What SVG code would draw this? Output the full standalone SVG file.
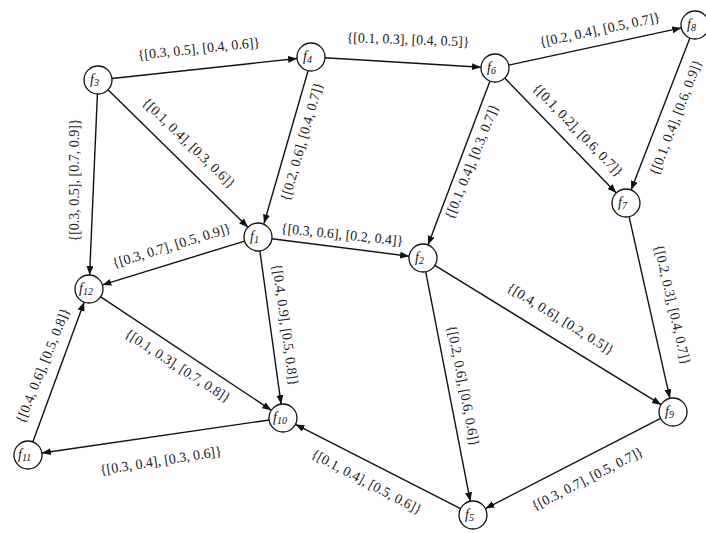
<svg xmlns="http://www.w3.org/2000/svg" width="706" height="533" viewBox="0 0 706 533">
<style>
.n{fill:#fff;stroke:#111;stroke-width:1.3}
.nl{font-family:"Liberation Serif",serif;font-style:italic;font-size:14px;fill:#111}
.e{stroke:#111;stroke-width:1.4;fill:none;marker-end:url(#ah)}
.l{font-family:"Liberation Serif",serif;font-size:14px;fill:#222;text-anchor:middle;dominant-baseline:middle}
</style>
<defs>
<marker id="ah" markerUnits="userSpaceOnUse" markerWidth="10" markerHeight="8" refX="9" refY="3.5" orient="auto"><path d="M0,0 L9,3.5 L0,7 z" fill="#111"/></marker>
</defs>
<rect width="706" height="533" fill="#fff"/>
<g id="connectors">
<line class="e" x1="111.9" y1="78.5" x2="297.1" y2="58.5"/>
<line class="e" x1="325.0" y1="57.8" x2="481.0" y2="67.2"/>
<line class="e" x1="508.7" y1="65.1" x2="681.3" y2="27.9"/>
<line class="e" x1="689.9" y1="38.1" x2="631.1" y2="189.9"/>
<line class="e" x1="504.7" y1="78.0" x2="616.3" y2="193.0"/>
<line class="e" x1="490.0" y1="81.1" x2="428.0" y2="244.9"/>
<line class="e" x1="108.0" y1="89.8" x2="248.0" y2="227.2"/>
<line class="e" x1="308.0" y1="71.0" x2="264.0" y2="223.5"/>
<line class="e" x1="97.4" y1="94.0" x2="89.6" y2="275.0"/>
<line class="e" x1="244.6" y1="241.1" x2="102.4" y2="284.9"/>
<line class="e" x1="271.9" y1="238.8" x2="409.1" y2="256.2"/>
<line class="e" x1="259.9" y1="250.9" x2="281.1" y2="404.1"/>
<line class="e" x1="100.7" y1="296.8" x2="271.3" y2="410.2"/>
<line class="e" x1="269.1" y1="420.0" x2="41.9" y2="453.0"/>
<line class="e" x1="32.8" y1="441.9" x2="84.2" y2="302.1"/>
<line class="e" x1="434.9" y1="265.3" x2="661.1" y2="404.7"/>
<line class="e" x1="425.7" y1="271.7" x2="470.3" y2="501.3"/>
<line class="e" x1="629.1" y1="216.7" x2="669.9" y2="398.3"/>
<line class="e" x1="660.6" y1="418.4" x2="485.4" y2="508.6"/>
<line class="e" x1="460.5" y1="508.6" x2="295.5" y2="424.4"/>
</g>
<g id="labels">
<text class="l" transform="translate(199,50) rotate(-6)">{[0.3, 0.5], [0.4, 0.6]}</text>
<text class="l" transform="translate(408,41) rotate(2)">{[0.1, 0.3], [0.4, 0.5]}</text>
<text class="l" transform="translate(600,31) rotate(-12)">{[0.2, 0.4], [0.5, 0.7]}</text>
<text class="l" transform="translate(677,118) rotate(-69)">{[0.1, 0.4], [0.6, 0.9]}</text>
<text class="l" transform="translate(577,131) rotate(46)">{[0.1, 0.2], [0.6, 0.7]}</text>
<text class="l" transform="translate(473,162) rotate(-68)">{[0.1, 0.4], [0.3, 0.7]}</text>
<text class="l" transform="translate(188,144) rotate(44)">{[0.1, 0.4], [0.3, 0.6]}</text>
<text class="l" transform="translate(303,142) rotate(-74)">{[0.2, 0.6], [0.4, 0.7]}</text>
<text class="l" transform="translate(76,180) rotate(-90)">{[0.3, 0.5], [0.7, 0.9]}</text>
<text class="l" transform="translate(172,247) rotate(-17)">{[0.3, 0.7], [0.5, 0.9]}</text>
<text class="l" transform="translate(342,236) rotate(6)">{[0.3, 0.6], [0.2, 0.4]}</text>
<text class="l" transform="translate(284,325) rotate(82)">{[0.4, 0.9], [0.5, 0.8]}</text>
<text class="l" transform="translate(177,367) rotate(33)">{[0.1, 0.3], [0.7, 0.8]}</text>
<text class="l" transform="translate(161,462) rotate(-9)">{[0.3, 0.4], [0.3, 0.6]}</text>
<text class="l" transform="translate(44,366) rotate(-68)">{[0.4, 0.6], [0.5, 0.8]}</text>
<text class="l" transform="translate(560,320) rotate(32)">{[0.4, 0.6], [0.2, 0.5]}</text>
<text class="l" transform="translate(462,386) rotate(79)">{[0.2, 0.6], [0.6, 0.6]}</text>
<text class="l" transform="translate(671,305) rotate(77)">{[0.2, 0.3], [0.4, 0.7]}</text>
<text class="l" transform="translate(588,480) rotate(-27)">{[0.3, 0.7], [0.5, 0.7]}</text>
<text class="l" transform="translate(366,483) rotate(28)">{[0.1, 0.4], [0.5, 0.6]}</text>
</g>
<g id="f1"><circle class="n" cx="258" cy="237" r="14"/><text class="nl" x="250" y="241">f<tspan font-size="10" dy="2">1</tspan></text></g>
<g id="f2"><circle class="n" cx="423" cy="258" r="14"/><text class="nl" x="415" y="262">f<tspan font-size="10" dy="2">2</tspan></text></g>
<g id="f3"><circle class="n" cx="98" cy="80" r="14"/><text class="nl" x="90" y="84">f<tspan font-size="10" dy="2">3</tspan></text></g>
<g id="f4"><circle class="n" cx="311" cy="57" r="14"/><text class="nl" x="303" y="61">f<tspan font-size="10" dy="2">4</tspan></text></g>
<g id="f5"><circle class="n" cx="473" cy="515" r="14"/><text class="nl" x="465" y="519">f<tspan font-size="10" dy="2">5</tspan></text></g>
<g id="f6"><circle class="n" cx="495" cy="68" r="14"/><text class="nl" x="487" y="72">f<tspan font-size="10" dy="2">6</tspan></text></g>
<g id="f7"><circle class="n" cx="626" cy="203" r="14"/><text class="nl" x="618" y="207">f<tspan font-size="10" dy="2">7</tspan></text></g>
<g id="f8"><circle class="n" cx="695" cy="25" r="14"/><text class="nl" x="687" y="29">f<tspan font-size="10" dy="2">8</tspan></text></g>
<g id="f9"><circle class="n" cx="673" cy="412" r="14"/><text class="nl" x="665" y="416">f<tspan font-size="10" dy="2">9</tspan></text></g>
<g id="f10"><circle class="n" cx="283" cy="418" r="14"/><text class="nl" x="273" y="422">f<tspan font-size="10" dy="2">10</tspan></text></g>
<g id="f11"><circle class="n" cx="28" cy="455" r="14"/><text class="nl" x="18" y="459">f<tspan font-size="10" dy="2">11</tspan></text></g>
<g id="f12"><circle class="n" cx="89" cy="289" r="14"/><text class="nl" x="79" y="293">f<tspan font-size="10" dy="2">12</tspan></text></g>
</svg>
